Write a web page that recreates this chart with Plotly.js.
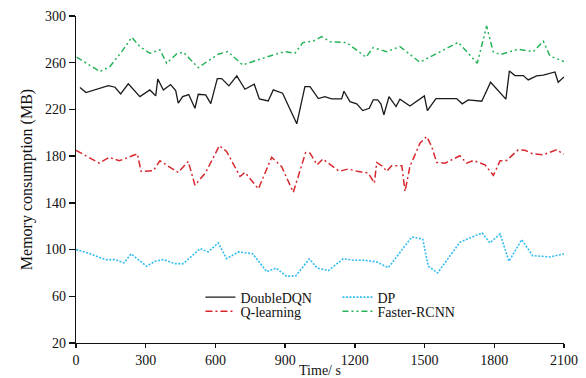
<!DOCTYPE html>
<html>
<head>
<meta charset="utf-8">
<script src="https://cdn.plot.ly/plotly-3.0.1.min.js"></script>
<style>html,body{margin:0;padding:0;background:#fff;}#chart{width:586px;height:378px;}</style>
</head>
<body>
<div id="chart"></div>
<script>
// DoubleDQN
const dqnX = [17,43,139,168,192,225,275,318,343,352,376,407,429,440,459,485,512,526,558,580,608,627,658,692,727,767,789,827,849,889,950,985,1007,1043,1071,1100,1143,1153,1179,1208,1234,1262,1279,1298,1312,1325,1347,1377,1394,1437,1499,1512,1549,1638,1662,1688,1746,1784,1850,1865,1889,1925,1946,1982,2011,2061,2075,2100];
const dqnY = [238.7,234.4,240.4,239,233.3,241.9,231,236.7,231.6,246.1,236.7,241.3,236.2,225.3,231,232.7,221,233,232.5,225,246.4,246.4,240.2,248.7,237.3,241.6,229,227.3,236.7,233.9,207.7,239.6,239.6,229.3,231,229,229,235.6,226.7,224.8,219,221,228.2,228.2,224.8,215.4,231,222.5,228.8,223,231.6,219,229.3,229.3,224.8,228.2,227,243.3,228.8,253,249,249,245.3,248.7,249.3,252.1,243.3,247.8];
// Q-learning
const qlX = [0,100,143,186,264,280,333,361,440,483,512,558,617,648,706,727,785,842,885,935,988,1007,1038,1062,1114,1133,1172,1210,1258,1284,1294,1320,1337,1358,1402,1416,1437,1480,1509,1531,1552,1588,1652,1681,1710,1760,1796,1825,1853,1903,1932,1965,2011,2068,2100];
const qlY = [185,174,179,176,182,167,167.5,176,166,175.5,155,166,189,184,162.6,166,152,179,171,149,183,182.6,172.6,177.5,169.8,167,169,167,165.5,157,174.6,171.2,167,171.8,171.8,149.8,171.2,191,196.8,188,174.6,174,180.3,174,176.3,172.6,163.5,176,176.3,185.4,185,182,181.2,185.4,181.7];
// DP
const dpX = [0,53,125,168,207,237,304,340,376,426,462,534,569,612,648,698,760,821,861,907,947,1004,1038,1086,1150,1193,1244,1294,1344,1445,1492,1516,1556,1652,1695,1748,1781,1825,1863,1918,1965,2040,2100];
const dpY = [100,97,91.4,91.4,88.6,96.3,85.7,90,91.4,88,88,100.8,98,105.7,92.2,98,96.5,81,84.2,77,77.7,92,84.2,82,92.2,90.8,90.8,89.4,84.5,110.8,109,85.7,80,106.2,110,114.2,105.7,113.4,90,108.5,94.8,93.7,96.3];
// Faster-RCNN
const frX = [3,103,146,197,240,275,318,361,390,433,462,526,612,653,717,792,849,899,942,976,1021,1057,1093,1165,1248,1279,1337,1394,1480,1645,1727,1767,1795,1825,1903,1968,2011,2040,2100];
const frY = [264.7,252.4,256.7,269.5,281.8,273.8,268.1,271,259.6,267.5,269,255.8,267.3,269.5,258.1,263.2,266.7,269.5,268.1,277.2,278.5,282.3,278,277.2,264.7,272.9,269.5,273.8,260.4,277.5,259.6,291.4,269.5,267,271.5,269.5,278.3,265.6,261];

const xTicks = [0,300,600,900,1200,1500,1800,2100];
const yTicks = [20,60,100,140,180,220,260,300];

const FONT = '"Liberation Serif", "Times New Roman", serif';

const traces = [
  {x: dqnX, y: dqnY, name: 'DoubleDQN', mode: 'lines', legend: 'legend',
   line: {color: '#1a1a1a', width: 1.3}},
  {x: dpX, y: dpY, name: 'DP', mode: 'lines', legend: 'legend',
   line: {color: '#33bdf0', width: 1.6, dash: '2px,1.5px'}},
  {x: qlX, y: qlY, name: 'Q-learning', mode: 'lines', legend: 'legend2',
   line: {color: '#d8282e', width: 1.5, dash: '7px,3px,2px,3px'}},
  {x: frX, y: frY, name: 'Faster-RCNN', mode: 'lines', legend: 'legend2',
   line: {color: '#27b35a', width: 1.5, dash: '6px,3px,2px,3px,2px,3px'}}
];

const legendCommon = {
  orientation: 'h', xanchor: 'left', yanchor: 'middle',
  bgcolor: 'rgba(0,0,0,0)', borderwidth: 0,
  font: {family: FONT, size: 14, color: '#111'},
  entrywidth: 92, entrywidthmode: 'pixels', tracegroupgap: 0,
  itemwidth: 30
};

const layout = {
  width: 586, height: 378,
  margin: {l: 76, r: 22, t: 16, b: 34.5},
  paper_bgcolor: '#fff', plot_bgcolor: '#fff',
  font: {family: FONT, size: 14, color: '#111'},
  showlegend: true,
  legend: Object.assign({}, legendCommon, {x: 0.255, y: 0.139}),
  legend2: Object.assign({}, legendCommon, {x: 0.255, y: 0.096}),
  xaxis: {
    range: [0, 2100], tickvals: xTicks, ticktext: xTicks.map(String),
    showgrid: false, zeroline: false, showline: true, linecolor: '#111', linewidth: 1.3,
    ticks: 'outside', ticklen: 4, tickwidth: 1.3, tickcolor: '#111',
    tickfont: {family: FONT, size: 14, color: '#111'},
    title: {text: 'Time/ s', font: {family: FONT, size: 14, color: '#111'}, standoff: 1}
  },
  yaxis: {
    range: [20, 300], tickvals: yTicks, ticktext: yTicks.map(String),
    showgrid: false, zeroline: false, showline: true, linecolor: '#111', linewidth: 1.3,
    ticks: 'outside', ticklen: 6, tickwidth: 1.3, tickcolor: '#111',
    tickfont: {family: FONT, size: 14, color: '#111'},
    title: {text: 'Memory consumption (MB)', font: {family: FONT, size: 16, color: '#111'}, standoff: 8}
  }
};

Plotly.newPlot('chart', traces, layout, {displayModeBar: false, staticPlot: true});
</script>
</body>
</html>
